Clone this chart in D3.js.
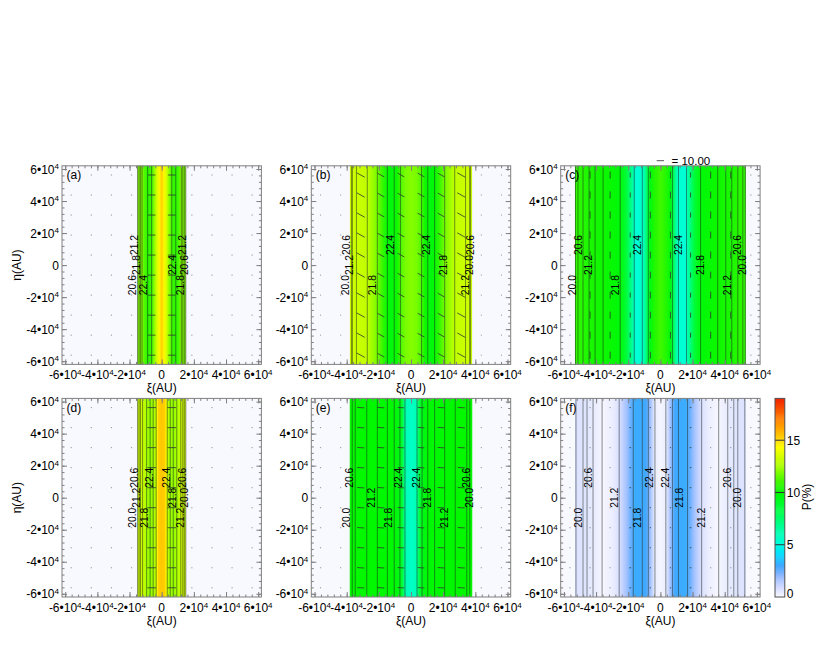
<!DOCTYPE html>
<html lang="en">
<head>
  <meta charset="utf-8">
  <title>P(%) maps</title>
  <script src="https://cdnjs.cloudflare.com/ajax/libs/d3/7.8.5/d3.min.js"></script>
  <style>
    html, body { margin: 0; background: #fff; }
    svg { display: block; }
    text { font-family: "Liberation Sans", Arial, sans-serif; fill: #000; }
  </style>
</head>
<body>
  <script>
  var xiA = [0, 1250, 2500, 3750, 5000, 6250, 8750, 10600, 12200, 15000]
  var pA = [15.2, 14.5, 13.7, 12.8, 11.8, 11, 10.6, 11.2, 12, 12]
  var xiB = [0, 3750, 6250, 8750, 12500, 14400, 17500, 21000, 27000, 33000, 38000]
  var pB = [12, 11.8, 11.2, 10.2, 9.7, 10, 10.8, 11.8, 13, 13.2, 13.4]
  var xiC = [0, 3750, 6250, 7500, 10000, 11250, 15600, 18000, 21000, 25000, 35600, 44000, 53100]
  var pC = [11, 10.5, 9.6, 8.6, 6.2, 5.4, 5.2, 6.8, 8.5, 9.8, 10.2, 10.4, 10.8]
  var xiD = [0, 1900, 2800, 3450, 5000, 7500, 10000, 12500, 15000]
  var pD = [15.4, 15.2, 14.4, 13.2, 12.4, 12.2, 12.7, 13.4, 13.4]
  var xiE = [0, 2500, 3750, 5000, 6250, 10000, 20000, 38100]
  var pE = [5.6, 5.8, 6.5, 8, 9.3, 9.9, 10, 10.1]
  var xiF = [0, 3400, 6000, 7500, 9000, 15600, 18000, 21000, 25000, 27000, 30000, 36000, 40000, 47000, 53100]
  var pF = [0.1, 0.3, 1.6, 2.3, 3, 3.1, 2.6, 1.7, 0.9, 0.6, 0.3, 0.05, 0.3, 0.6, 0.7]

  // contour positions (also mirrored)
  var contourA = [6250, 8750, 12200, 13100, 14060, 15000]
  var contourB = [6560, 10440, 14690, 20940, 27190, 33940, 36440, 37060]
  var contourC = [7500, 11250, 16250, 25000, 35630, 40630, 44380, 48130, 51250, 52810]
  var contourD = [3440, 5310, 7190, 9380, 11880, 13130, 14060, 15000]
  var contourE = [3750, 6880, 10440, 14690, 20940, 27500, 34690, 36560]
  var contourF = [3380, 7500, 11250, 16880, 25630, 36250, 41880, 45630, 48130, 52500]

  // contour labels: text, xi, eta
  var labelsA = [["20.6", -18100, -12500], ["21.2", -17200, 12500], ["21.8", -15600, 0], ["22.4", -11250, -12500],
    ["22.4", 6560, 0], ["21.8", 11560, -12500], ["21.2", 13100, 12500], ["20.6", 14060, 0]]
  var labelsB = [["20.0", -40800, -12500], ["20.6", -40200, 12500], ["21.2", -38100, 0], ["21.8", -24200, -12500], ["22.4", -13100, 12500],
    ["22.4", 9800, 12500], ["21.8", 20200, 0], ["21.2", 33750, -12500], ["20.0", 36400, 0], ["20.6", 36900, 12500]]
  var labelsC = [["20.6", -51250, 12500], ["20.0", -54600, -12500], ["21.2", -44800, 0], ["21.8", -28300, -12500], ["22.4", -14600, 12500],
    ["22.4", 11060, 12500], ["21.8", 25000, 0], ["21.2", 41700, -12500], ["20.6", 47900, 12500], ["20.0", 51060, 0]]
  var labelsD = [["20.6", -17200, 12500], ["20.0", -18100, -12500], ["21.2", -15600, 0], ["21.8", -10900, -12500], ["22.4", -7800, 12500],
    ["22.4", 3100, 12500], ["21.8", 6750, 0], ["21.2", 11560, -12500], ["20.6", 13100, 12500], ["20.0", 14060, 0]]
  var labelsE = [["20.6", -38100, 12500], ["20.0", -40200, -12500], ["21.2", -24400, 0], ["21.8", -13900, -12500], ["22.4", -7700, 12500],
    ["22.4", 3560, 12500], ["21.8", 10200, 0], ["21.2", 20400, -12500], ["20.6", 34400, 12500], ["20.0", 36400, 0]]
  var labelsF = [["20.0", -51060, -12500], ["20.6", -45000, 12500], ["21.2", -28750, 0], ["21.8", -14600, -12500], ["22.4", -7060, 12500],
    ["22.4", 3300, 12500], ["21.8", 11440, 0], ["21.2", 25400, -12500], ["20.6", 41700, 12500], ["20.0", 48100, 0]]

  var panelNames = ["(a)", "(b)", "(c)", "(d)", "(e)", "(f)"]
  var panelXi = [xiA, xiB, xiC, xiD, xiE, xiF]
  var panelP = [pA, pB, pC, pD, pE, pF]
  var panelContours = [contourA, contourB, contourC, contourD, contourE, contourF]
  var panelLabels = [labelsA, labelsB, labelsC, labelsD, labelsE, labelsF]
  var panelAngle = [0, 29, 90, 0, 4, 0]

  var gridVals = [-56250, -43750, -31250, -18750, -6250, 6250, 18750, 31250, 43750, 56250]
  var majorTicks = [-60000, -40000, -20000, 0, 20000, 40000, 60000]
  var minorTicks = d3.range(-60000, 60001, 4000)
  var cbarTicks = [0, 5, 10, 15]

  var rampP = [0, 1, 2, 3, 4, 5, 6.5, 8, 10, 11, 12.5, 14.3, 15.2, 17, 19]
  var rampColors = ["#f8f8ff", "#d0d8ff", "#90b8ff", "#40a8ff", "#00d8ff", "#00ffe0", "#00ffa0", "#00ff50",
    "#00f800", "#40f800", "#a8ff00", "#ffff00", "#ffd000", "#ff8000", "#f02000"]

  var color = d3.scaleLinear().domain(rampP).range(rampColors).clamp(true)

  var svg = d3.select("body").append("svg").attr("width", 830).attr("height", 664)

  var defs = svg.append("defs")

  var colX = [62, 311.3, 560.7]
  var rowY = [165.8, 398.4]
  var panelW = 199.4
  var panelH = 198.6

  panelNames.forEach(function(name, i) {
    var left = colX[i % 3]
    var top = rowY[Math.floor(i / 3)]
    var x = d3.scaleLinear().domain([-62000, 62000]).range([left, left + panelW])
    var y = d3.scaleLinear().domain([-62000, 62000]).range([top + panelH, top])
    var g = svg.append("g")

    var half = panelXi[i]
    var edge = half[half.length - 1]
    var xs = half.slice(1).reverse().map(function(d) { return -d }).concat(half)
    var ps = panelP[i].slice(1).reverse().concat(panelP[i])

    // background, then the coloured band as a gradient along xi
    g.append("rect").attr("x", left).attr("y", top).attr("width", panelW).attr("height", panelH)
      .attr("fill", color(0))

    var grad = defs.append("linearGradient").attr("id", "band" + i)
      .attr("gradientUnits", "userSpaceOnUse")
      .attr("x1", x(-edge)).attr("x2", x(edge)).attr("y1", 0).attr("y2", 0)
    grad.selectAll("stop").data(xs).enter().append("stop")
      .attr("offset", function(d) { return (d + edge) / (2 * edge) })
      .attr("stop-color", function(d, j) { return color(ps[j]) })

    g.append("rect").attr("x", x(-edge)).attr("y", top)
      .attr("width", x(edge) - x(-edge)).attr("height", panelH)
      .attr("fill", "url(#band" + i + ")")

    // contours
    var levels = panelContours[i].map(function(d) { return -d }).concat(panelContours[i])
    g.append("g").selectAll("line").data(levels).enter().append("line")
      .attr("x1", function(d) { return x(d) }).attr("x2", function(d) { return x(d) })
      .attr("y1", top).attr("y2", top + panelH)
      .attr("stroke", "#1a2a20").attr("stroke-opacity", 0.52).attr("stroke-width", 1)

    // polarization vectors
    var pAt = d3.scaleLinear().domain(half).range(panelP[i]).clamp(true)
    var cells = []
    gridVals.forEach(function(gx) {
      gridVals.forEach(function(gy) {
        cells.push({ xi: gx, eta: gy, p: Math.abs(gx) < edge ? pAt(Math.abs(gx)) : 0 })
      })
    })
    var rad = panelAngle[i] * Math.PI / 180
    g.append("g").selectAll("line").data(cells).enter().append("line")
      .attr("x1", function(d) { return x(d.xi) - Math.cos(rad) * Math.max(1.2, 0.7 * d.p) / 2 })
      .attr("x2", function(d) { return x(d.xi) + Math.cos(rad) * Math.max(1.2, 0.7 * d.p) / 2 })
      .attr("y1", function(d) { return y(d.eta) - Math.sin(rad) * Math.max(1.2, 0.7 * d.p) / 2 })
      .attr("y2", function(d) { return y(d.eta) + Math.sin(rad) * Math.max(1.2, 0.7 * d.p) / 2 })
      .attr("stroke", "#303830").attr("stroke-opacity", function(d) { return d.p > 1 ? 0.8 : 0.5 })
      .attr("stroke-width", 1)

    // frame and ticks on all four sides
    g.append("rect").attr("x", left).attr("y", top).attr("width", panelW).attr("height", panelH)
      .attr("fill", "none").attr("stroke", "#808080").attr("stroke-width", 1)

    var sides = [
      [d3.axisBottom(x), "translate(0," + (top + panelH) + ")"],
      [d3.axisTop(x), "translate(0," + top + ")"],
      [d3.axisLeft(y), "translate(" + left + ",0)"],
      [d3.axisRight(y), "translate(" + (left + panelW) + ",0)"]
    ]
    sides.forEach(function(s) {
      var minor = g.append("g").attr("transform", s[1])
        .call(s[0].tickValues(minorTicks).tickSizeInner(-2.5).tickSizeOuter(0).tickFormat(""))
      var major = g.append("g").attr("transform", s[1])
        .call(s[0].tickValues(majorTicks).tickSizeInner(-5).tickSizeOuter(0).tickFormat(""))
      minor.select(".domain").remove()
      major.select(".domain").remove()
      minor.selectAll("line").attr("stroke", "#808080")
      major.selectAll("line").attr("stroke", "#808080")
      minor.selectAll("text").remove()
      major.selectAll("text").remove()
    })

    // tick labels
    function tickLabel(sel) {
      sel.text(function(d) { return d === 0 ? "0" : (d / 10000) + "•10" })
        .filter(function(d) { return d !== 0 })
        .append("tspan").attr("font-size", 8).attr("dy", -4.5).text("4")
    }
    g.append("g").selectAll("text").data(majorTicks).enter().append("text")
      .attr("x", function(d) { return x(d) }).attr("y", top + panelH + 15)
      .attr("text-anchor", "middle").attr("font-size", 12)
      .call(tickLabel)
    g.append("g").selectAll("text").data(majorTicks).enter().append("text")
      .attr("x", left - 3).attr("y", function(d) { return y(d) + 4.5 })
      .attr("text-anchor", "end").attr("font-size", 12)
      .call(tickLabel)

    g.append("text").attr("x", x(0)).attr("y", top + panelH + 28)
      .attr("text-anchor", "middle").attr("font-size", 12).text("ξ(AU)")
    if (i % 3 === 0) {
      g.append("text")
        .attr("transform", "translate(" + (left - 41) + "," + y(0) + ") rotate(-90)")
        .attr("text-anchor", "middle").attr("font-size", 12).text("η(AU)")
    }

    g.append("text").attr("x", left + 4.5).attr("y", top + 13.5)
      .attr("font-size", 12).text(name)

    // contour labels
    g.append("g").selectAll("text").data(panelLabels[i]).enter().append("text")
      .attr("transform", function(d) { return "translate(" + x(d[1]) + "," + y(d[2]) + ") rotate(-90)" })
      .attr("text-anchor", "middle").attr("dy", "0.36em").attr("font-size", 10.3)
      .text(function(d) { return d[0] })
  })

  // vector length key above panel (c)
  svg.append("line").attr("x1", 656.7).attr("x2", 664).attr("y1", 160.7).attr("y2", 160.7)
    .attr("stroke", "#555").attr("stroke-width", 1)
  svg.append("text").attr("x", 671.5).attr("y", 164.5).attr("font-size", 11.5).text("= 10.00")

  // colour bar
  var cbarY = d3.scaleLinear().domain([0, 19]).range([597, 398.4])
  var cbarLeft = 775
  var cbarW = 9.8
  var cbar = svg.append("g")
  cbar.selectAll("rect").data(d3.range(0, 19, 0.1)).enter().append("rect")
    .attr("x", cbarLeft).attr("width", cbarW)
    .attr("y", function(d) { return cbarY(d + 0.1) })
    .attr("height", function(d) { return cbarY(d) - cbarY(d + 0.1) + 0.5 })
    .attr("fill", function(d) { return color(d) })
  cbar.selectAll("line").data(cbarTicks.slice(1)).enter().append("line")
    .attr("x1", cbarLeft).attr("x2", cbarLeft + cbarW)
    .attr("y1", function(d) { return cbarY(d) }).attr("y2", function(d) { return cbarY(d) })
    .attr("stroke", "#303030").attr("stroke-width", 1)
  cbar.append("rect").attr("x", cbarLeft).attr("y", 398.4).attr("width", cbarW).attr("height", 198.6)
    .attr("fill", "none").attr("stroke", "#505050").attr("stroke-width", 1)
  // the 0 label sits a little above its tick in the reference
  cbar.selectAll("text.tick").data(cbarTicks).enter().append("text").attr("class", "tick")
    .attr("x", cbarLeft + cbarW + 2).attr("y", function(d) { return cbarY(d) + (d === 0 ? 1 : 4.5) })
    .attr("font-size", 12).text(function(d) { return d })
  svg.append("text").attr("transform", "translate(811,497) rotate(-90)")
    .attr("text-anchor", "middle").attr("font-size", 12).text("P(%)")
  </script>
</body>
</html>
